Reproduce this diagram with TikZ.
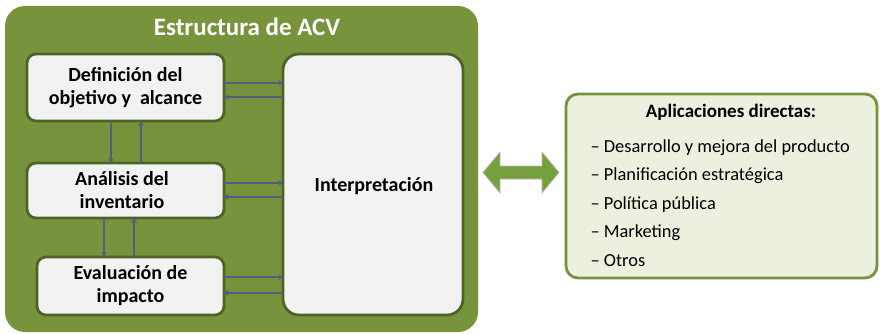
\documentclass[tikz,border=0pt]{standalone}
\usepackage{fontspec}
\setmainfont{Carlito}
\usetikzlibrary{arrows.meta}
\definecolor{outergreen}{HTML}{77933C}
\definecolor{darkgreen}{HTML}{4F6228}
\definecolor{boxfill}{HTML}{F2F2F2}
\definecolor{arrowblue}{HTML}{4F5F7C}
\definecolor{appfill}{HTML}{EBF1DE}
\definecolor{dblgreen}{HTML}{76A03E}
\tikzset{
  x=1pt, y=-1pt,
  stagebox/.style={draw=darkgreen, line width=2.8pt, fill=boxfill, rounded corners=9pt},
  stagetext/.style={font=\fontsize{20}{23}\selectfont\bfseries, align=center, text=black},
  listtext/.style={font=\fontsize{18.4}{22}\selectfont, anchor=west},
  flow/.style={draw=arrowblue, line width=2pt, -{Stealth[length=5pt,width=6pt]}},
}
\begin{document}
\begin{tikzpicture}
\useasboundingbox (0,0) rectangle (880,334);
% outer frame
\path[fill=outergreen, rounded corners=20pt] (5,6) rectangle (478,332);
\node[font=\fontsize{25}{28}\selectfont\bfseries, text=white] (title) at (247,27) {Estructura de ACV};
% stage boxes
\path[stagebox] (27,54) rectangle (224,121);
\node[stagetext] (def) at (125.5,88) {Definición del\\objetivo y\ \ alcance};
\path[stagebox] (27,163) rectangle (224,218);
\node[stagetext] (ana) at (122,190.5) {Análisis del\\inventario};
\path[stagebox] (37,257) rectangle (224,315);
\node[stagetext] (eva) at (130.5,286) {Evaluación de\\impacto};
\path[stagebox, rounded corners=16pt] (283,54) rectangle (463,315);
\node[stagetext] (int) at (374,186) {Interpretación};
% anchors
\coordinate (d1) at (224,83);  \coordinate (i1) at (283,83);
\coordinate (d2) at (224,97);  \coordinate (i2) at (283,97);
\coordinate (a1) at (224,183); \coordinate (j1) at (283,183);
\coordinate (a2) at (224,197); \coordinate (j2) at (283,197);
\coordinate (e1) at (224,277); \coordinate (k1) at (283,277);
\coordinate (e2) at (224,293); \coordinate (k2) at (283,293);
\draw[flow] (d1) -- (i1);
\draw[flow] (i2) -- (d2);
\draw[flow] (a1) -- (j1);
\draw[flow] (j2) -- (a2);
\draw[flow] (e1) -- (k1);
\draw[flow] (k2) -- (e2);
\coordinate (v1a) at (111,121); \coordinate (v1b) at (111,163);
\coordinate (v2a) at (141,163); \coordinate (v2b) at (141,121);
\coordinate (v3a) at (104,218); \coordinate (v3b) at (104,257);
\coordinate (v4a) at (134,257); \coordinate (v4b) at (134,218);
\draw[flow] (v1a) -- (v1b);
\draw[flow] (v2a) -- (v2b);
\draw[flow] (v3a) -- (v3b);
\draw[flow] (v4a) -- (v4b);
% double arrow
\path[fill=dblgreen, draw=gray!55, line width=0.8pt, line join=round]
  (483,172.5) -- (500,152) -- (500,166) -- (542,166) -- (542,152) -- (559,172.5)
  -- (542,193) -- (542,179) -- (500,179) -- (500,193) -- cycle;
% applications box
\path[draw=outergreen, line width=2.8pt, fill=appfill, rounded corners=12pt] (566,94) rectangle (877,278);
\node[font=\fontsize{19}{22}\selectfont\bfseries] (apt) at (731,112) {Aplicaciones directas:};
\node[listtext] (l1) at (587,148) {– Desarrollo y mejora del producto};
\node[listtext] (l2) at (587,176) {– Planificación estratégica};
\node[listtext] (l3) at (587,205) {– Política pública};
\node[listtext] (l4) at (587,233) {– Marketing};
\node[listtext] (l5) at (587,261) {– Otros};
\end{tikzpicture}
\end{document}
